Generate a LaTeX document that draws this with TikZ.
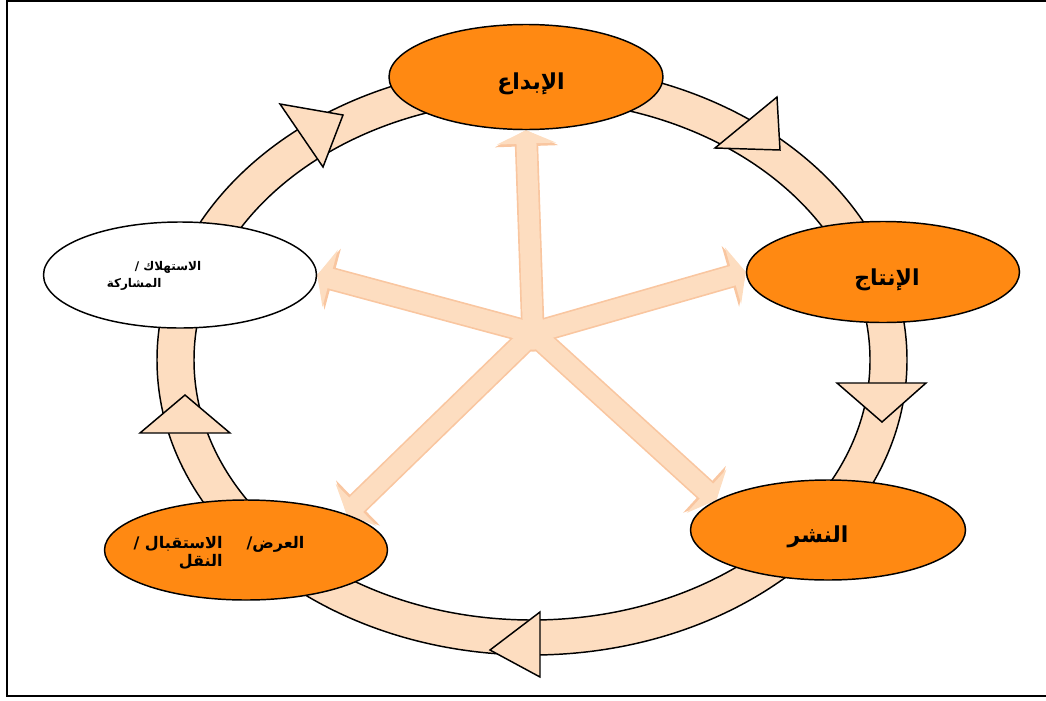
\documentclass[tikz,border=0pt]{standalone}
\usepackage{fontspec}
\usetikzlibrary{shapes.geometric,arrows.meta}
\TeXXeTstate=1
\newfontfamily\arabicfont[Script=Arabic]{DejaVu Sans}
\definecolor{orng}{RGB}{255,137,18}
\definecolor{peach}{RGB}{253,221,192}
\definecolor{peachline}{RGB}{249,198,160}
\pgfdeclarelayer{bg}
\pgfsetlayers{bg,main}
\begin{document}
\begin{tikzpicture}[x=0.75pt,y=-0.75pt,
  oval/.style={ellipse, draw=black, line width=1.1pt, fill=orng, inner sep=0pt},
  lbl/.style={font=\arabicfont\bfseries\fontsize{16.5}{19}\selectfont, inner sep=0pt, text=black},
  midlbl/.style={font=\arabicfont\bfseries\fontsize{12}{14}\selectfont, inner sep=0pt, text=black},
  smalllbl/.style={font=\arabicfont\bfseries\fontsize{9}{13}\selectfont, inner sep=0pt, text=black},
  tri/.style={fill=peach, draw=black, line width=1.1pt, line join=miter},
  ringline/.style={draw=black, line width=1.1pt},
  starout/.style={draw=peachline, line width=17.5pt, -{Triangle[width=47pt,length=12pt]}},
  starin/.style={draw=peach, line width=15pt, -{Triangle[width=44pt,length=10pt]}},
  frame/.style={draw=black, line width=1.6pt}]
\useasboundingbox (0,0) rectangle (1046,700);

% frame
\draw[frame] (1046,1) -- (7,1) -- (7,696) -- (1046,696);

% ellipses
\node[oval, minimum width=205.5pt, minimum height=78.75pt] (cre) at (526,77) {};
\node[oval, minimum width=204.75pt, minimum height=75.75pt] (pro) at (883,272) {};
\node[oval, minimum width=206.25pt, minimum height=75pt] (pub) at (828,530) {};
\node[oval, minimum width=212.25pt, minimum height=75pt] (dis) at (246,550) {};
\node[oval, fill=white, minimum width=204.75pt, minimum height=79.5pt] (con) at (180,275) {};

% labels
\node[lbl] (tcre) at (531,84) {\beginR الإبداع\endR};
\node[lbl] (tpro) at (887,280) {\beginR الإنتاج\endR};
\node[lbl] (tpub) at (818,537) {\beginR النشر\endR};
\node[midlbl, align=right] (tdis) at (219,553)
  {\beginR العرض/\hspace*{18pt}الاستقبال /\endR\\\beginR\hphantom{العرض/\hspace*{18pt}}النقل\endR};
\node[smalllbl, align=left] (tcon) at (154,276)
  {\beginR الاستهلاك /\hspace*{21pt}\endR\\\beginR المشاركة\endR};

\coordinate (c) at (533,333);

\begin{pgfonlayer}{bg}
  % ring
  \fill[peach, even odd rule] (532,360) ellipse [x radius=281.25pt, y radius=221.25pt]
                              (532,360) ellipse [x radius=253.5pt, y radius=195pt];
  \draw[ringline] (532,360) ellipse [x radius=281.25pt, y radius=221.25pt];
  \draw[ringline] (532,360) ellipse [x radius=253.5pt, y radius=195pt];
  % direction triangles
  \draw[tri] (280,104) -- (343,115) -- (323,167) -- cycle;
  \draw[tri] (777,97) -- (780,150) -- (715,148) -- cycle;
  \draw[tri] (837,383) -- (926,383) -- (882,422) -- cycle;
  \draw[tri] (540,612) -- (540,677) -- (490,650) -- cycle;
  \draw[tri] (140,433) -- (230,433) -- (185,395) -- cycle;
  % star arrows
  \foreach \t in {cre.south, pro.west, pub.165, dis.north east, con.east}
    \draw[starout] (c) -- (\t);
  \fill[peachline] (c) circle [radius=14pt];
  \foreach \t in {cre.south, pro.west, pub.165, dis.north east, con.east}
    \draw[starin] (c) -- (\t);
  \fill[peach] (c) circle [radius=12.5pt];
\end{pgfonlayer}
\end{tikzpicture}
\end{document}
